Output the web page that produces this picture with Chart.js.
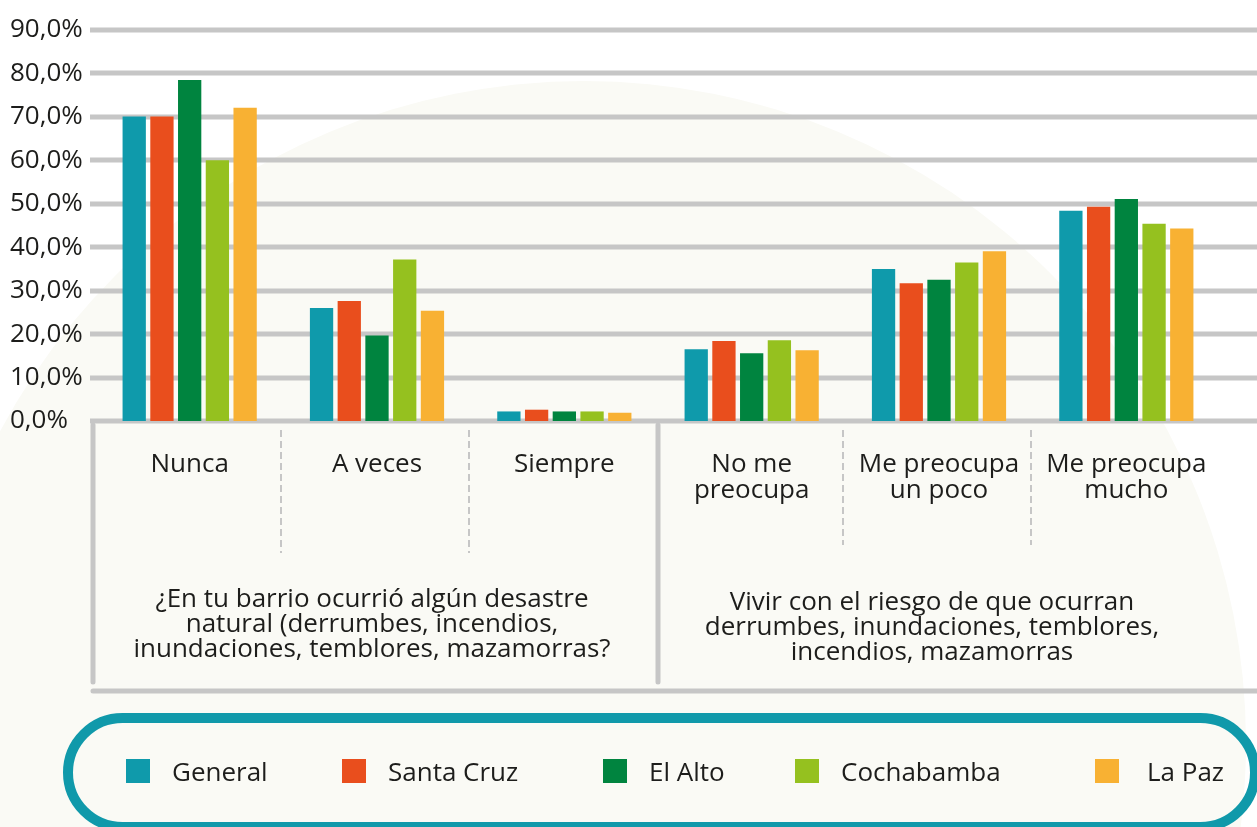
<!DOCTYPE html>
<html lang="es">
<head>
<meta charset="utf-8">
<script src="https://cdn.jsdelivr.net/npm/chart.js@4"></script>
<style>
  body { margin: 0; background: #fff; }
  #wrap { position: relative; width: 1257px; height: 827px; overflow: hidden; background: #fff; font-family: 'Open Sans', sans-serif; color: #1d1d1b; }
  #bgCircle { position: absolute; left: -78px; top: 81px; width: 1324px; height: 1324px; border-radius: 50%; background: #fafaf5; }
  #chartBox { position: absolute; left: 0; top: 0; width: 1257px; height: 827px; }
  .group { position: absolute; font-size: 26px; line-height: 25px; text-align: center; white-space: nowrap; transform: translateX(-50%); }
  #pill { position: absolute; left: 63px; top: 713px; width: 1197px; height: 119px; box-sizing: border-box; border: 10px solid #1099aa; border-radius: 60px; }
  .lg { position: absolute; top: 757px; font-size: 26px; line-height: 28px; white-space: nowrap; }
  .lg i { position: absolute; top: 2px; width: 24px; height: 24px; }
</style>
</head>
<body>
<div id="wrap">
  <div id="bgCircle"></div>
  <div id="chartBox"><canvas id="barChart" width="1257" height="827"></canvas></div>
  <div class="group" style="left:372px; top:585px;">¿En tu barrio ocurrió algún desastre<br>natural (derrumbes, incendios,<br>inundaciones, temblores, mazamorras?</div>
  <div class="group" style="left:932px; top:588px;">Vivir con el riesgo de que ocurran<br>derrumbes, inundaciones, temblores,<br>incendios, mazamorras</div>
  <div id="pill"></div>
  <div id="legend"></div>
</div>
<script>
// categorías y series
const categories = [['Nunca'], ['A veces'], ['Siempre'], ['No me', 'preocupa'], ['Me preocupa', 'un poco'], ['Me preocupa', 'mucho']];
const seriesNames = ['General', 'Santa Cruz', 'El Alto', 'Cochabamba', 'La Paz'];
const seriesColors = ['#0f9aab', '#e94e1d', '#00843f', '#95c11f', '#f8b133'];

const general    = [70.1, 26.0, 2.2, 16.5, 35.0, 48.4];
const santaCruz  = [70.1, 27.6, 2.6, 18.4, 31.7, 49.3];
const elAlto     = [78.5, 19.7, 2.2, 15.6, 32.5, 51.1];
const cochabamba = [60.0, 37.2, 2.2, 18.6, 36.5, 45.4];
const laPaz      = [72.1, 25.4, 1.9, 16.3, 39.1, 44.3];
const seriesValues = [general, santaCruz, elAlto, cochabamba, laPaz];

const yTicks = [0, 10, 20, 30, 40, 50, 60, 70, 80, 90];

const GRID = '#c6c6c6';
const TEXT = '#1d1d1b';

// leyenda (HTML)
const legendX = [126, 342, 603, 795, 1095];
const legendEl = document.getElementById('legend');
seriesNames.forEach((name, i) => {
    const d = document.createElement('div');
    d.className = 'lg';
    d.style.left = legendX[i] + 'px';
    d.innerHTML = `<i style="background:${seriesColors[i]}"></i><span style="margin-left:${i === 4 ? 52 : 46}px">${name}</span>`;
    legendEl.appendChild(d);
});

// líneas de fondo y recuadro inferior
const framePlugin = {
    id: 'framePlugin',
    beforeDatasetsDraw(chart) {
        const { ctx, scales: { y } } = chart;
        ctx.save();
        ctx.strokeStyle = GRID;
        ctx.lineWidth = 5;
        yTicks.forEach(v => {
            const py = Math.round(y.getPixelForValue(v));
            ctx.beginPath();
            ctx.moveTo(90, py);
            ctx.lineTo(chart.width, py);
            ctx.stroke();
        });
        ctx.restore();
    },
    afterDraw(chart) {
        const { ctx, scales: { x } } = chart;
        const half = (x.getPixelForValue(1) - x.getPixelForValue(0)) / 2;
        const edge = i => x.getPixelForValue(i) + half;
        ctx.save();
        ctx.strokeStyle = GRID;
        ctx.lineCap = 'round';
        ctx.lineWidth = 5;
        // bordes sólidos
        ctx.beginPath();
        ctx.moveTo(93, 425); ctx.lineTo(93, 682);
        ctx.moveTo(edge(2), 425); ctx.lineTo(edge(2), 682);
        ctx.moveTo(93, 691); ctx.lineTo(chart.width + 5, 691);
        ctx.stroke();
        // separadores punteados
        ctx.lineCap = 'butt';
        ctx.lineWidth = 2;
        ctx.setLineDash([7, 4]);
        [[0, 553], [1, 553], [3, 545], [4, 545]].forEach(([i, end]) => {
            const px = Math.round(edge(i)) - 2;
            ctx.beginPath();
            ctx.moveTo(px, 430);
            ctx.lineTo(px, end);
            ctx.stroke();
        });
        ctx.restore();
    }
};

const ctx = document.getElementById('barChart').getContext('2d');
new Chart(ctx, {
    type: 'bar',
    data: {
        labels: categories,
        datasets: seriesNames.map((name, i) => ({
            label: name,
            data: seriesValues[i],
            backgroundColor: seriesColors[i],
            borderWidth: 0,
            categoryPercentage: 0.74,
            barPercentage: 0.84
        }))
    },
    options: {
        responsive: false,
        animation: false,
        layout: { padding: { top: 30, left: 10, right: 37, bottom: 0 } },
        plugins: { legend: { display: false }, tooltip: { enabled: false } },
        scales: {
            x: {
                grid: { display: false, drawTicks: false },
                border: { display: false },
                ticks: {
                    color: TEXT,
                    padding: 31,
                    maxRotation: 0,
                    autoSkip: false,
                    font: { family: "'Open Sans', sans-serif", size: 26, lineHeight: 1.0 }
                },
                afterFit: s => { s.height = 406; }
            },
            y: {
                min: 0,
                max: 90,
                grid: { display: false, drawTicks: false },
                border: { display: false },
                ticks: {
                    stepSize: 10,
                    color: TEXT,
                    crossAlign: 'far',
                    font: { family: "'Open Sans', sans-serif", size: 26 },
                    callback: v => v.toFixed(1).replace('.', ',') + '%'
                },
                afterFit: s => { s.width = 86; }
            }
        }
    },
    plugins: [framePlugin]
});
</script>
</body>
</html>
